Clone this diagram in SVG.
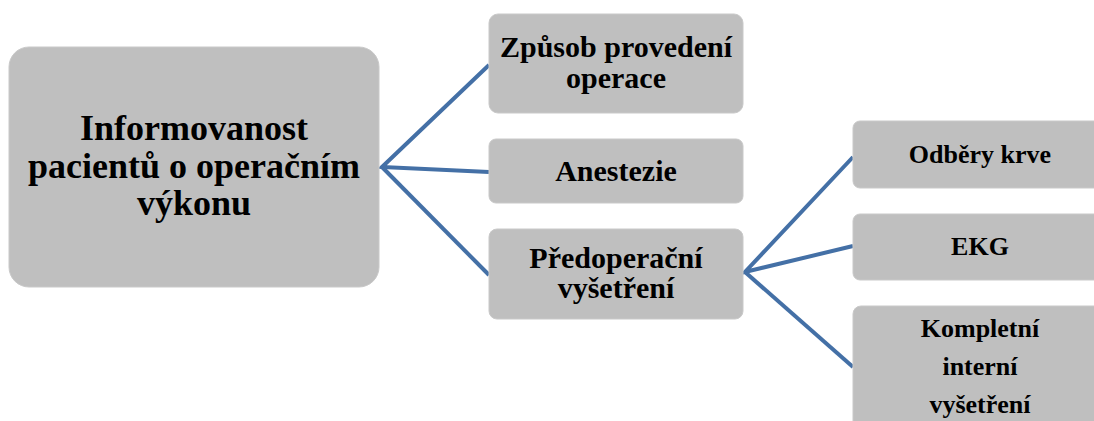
<svg xmlns="http://www.w3.org/2000/svg" width="1094" height="421" viewBox="0 0 1094 421">
<style>
.box{fill:#bfbfbf;stroke:#c9c9c9;stroke-width:1}
.t{font-family:'Liberation Serif','Times New Roman','DejaVu Serif',serif;font-weight:700;fill:#000;text-anchor:middle}
.t1{font-size:36px}
.t2{font-size:30px}
.t3{font-size:26px}
.c{stroke:#4470a6;stroke-width:4;fill:none;stroke-linejoin:miter}
</style>
<rect width="1094" height="421" fill="#fff"/>
<g id="connectors">
<polyline class="c" points="489,65 382,167 489,172"/>
<polyline class="c" points="382,167 489,275"/>
<polyline class="c" points="853,157 745,272 853,246"/>
<polyline class="c" points="745,272 853,367"/>
</g>
<g id="n-main">
<rect class="box" x="9" y="47" width="370" height="240" rx="20"/>
<text class="t t1" x="194" y="140" font-family="Liberation Serif">Informovanost</text>
<text class="t t1" x="194" y="178" font-family="Liberation Serif">pacientů o operačním</text>
<text class="t t1" x="194" y="215" font-family="Liberation Serif">výkonu</text>
</g>
<g id="n-zpusob">
<rect class="box" x="489" y="14" width="254" height="99" rx="9"/>
<text class="t t2" x="616" y="57">Způsob provedení</text>
<text class="t t2" x="616" y="88">operace</text>
</g>
<g id="n-anestezie">
<rect class="box" x="489" y="139" width="254" height="64" rx="7"/>
<text class="t t2" x="616" y="181">Anestezie</text>
</g>
<g id="n-predoperacni">
<rect class="box" x="489" y="229" width="254" height="90" rx="8"/>
<text class="t t2" x="616" y="268">Předoperační</text>
<text class="t t2" x="616" y="298">vyšetření</text>
</g>
<g id="n-odbery">
<rect class="box" x="853" y="121" width="254" height="67" rx="7"/>
<text class="t t3" x="980" y="163">Odběry krve</text>
</g>
<g id="n-ekg">
<rect class="box" x="853" y="214" width="254" height="66" rx="7"/>
<text class="t t3" x="980" y="255">EKG</text>
</g>
<g id="n-kompletni">
<rect class="box" x="853" y="306" width="254" height="130" rx="8"/>
<text class="t t3" x="980" y="337">Kompletní</text>
<text class="t t3" x="980" y="375">interní</text>
<text class="t t3" x="980" y="413">vyšetření</text>
</g>
</svg>
